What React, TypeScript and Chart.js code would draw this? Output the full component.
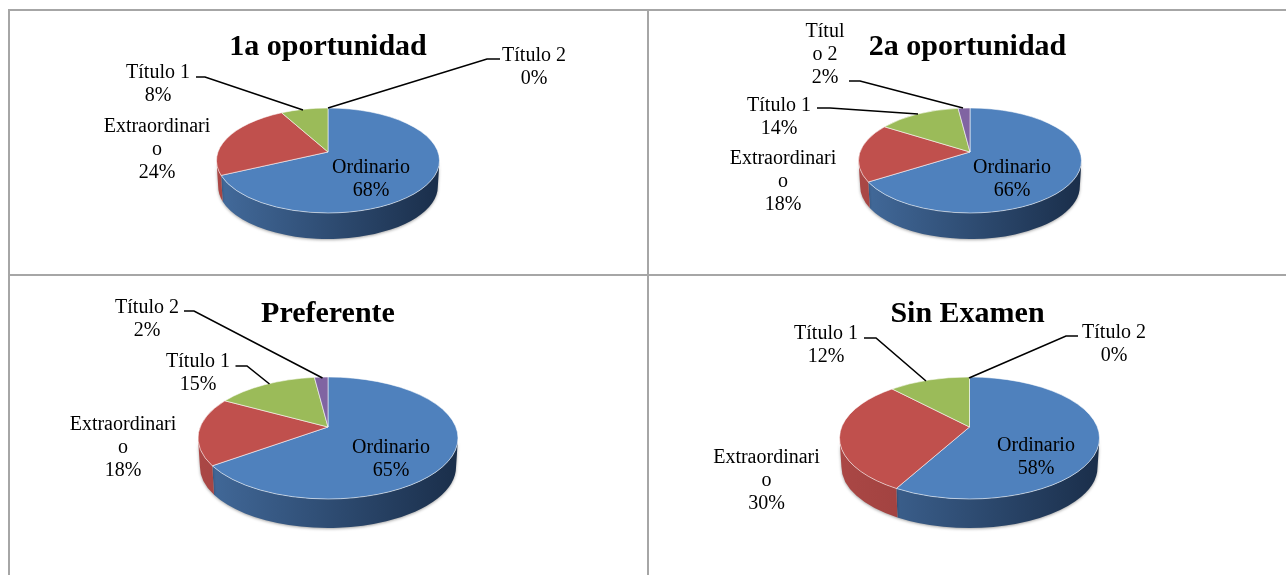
import React, { useEffect, useRef } from "react";
import { Chart, registerables } from "chart.js";

Chart.register(...registerables);

// ---------- data ----------
const categories = ["Ordinario", "Extraordinario", "Título 1", "Título 2"];
const titles = ["1a oportunidad", "2a oportunidad", "Preferente", "Sin Examen"];
const primeraValues = [68, 24, 8, 0];
const segundaValues = [66, 18, 14, 2];
const preferenteValues = [65, 18, 15, 2];
const sinExamenValues = [58, 30, 12, 0];
const panelValues = [primeraValues, segundaValues, preferenteValues, sinExamenValues];

// how each category name wraps in each panel
const wrappedNames = [
  [["Ordinario"], ["Extraordinari", "o"], ["Título 1"], ["Título 2"]],
  [["Ordinario"], ["Extraordinari", "o"], ["Título 1"], ["Títul", "o 2"]],
  [["Ordinario"], ["Extraordinari", "o"], ["Título 1"], ["Título 2"]],
  [["Ordinario"], ["Extraordinari", "o"], ["Título 1"], ["Título 2"]],
];

// ---------- styles ----------
const sliceColors = ["#4f81bd", "#c0504d", "#9bbb59", "#8064a2"];
const wallColors = [
  ["#436b9c", "#1a2e4a"],
  ["#aa4745", "#883432"],
  ["#7d9647", "#5f7236"],
  ["#664f82", "#4c3b61"],
];
const FONT = '"Liberation Serif", "Times New Roman", serif';
const LABEL_FONT = `20px ${FONT}`;
const LINE_H = 23;
const TEXT_NUDGE = 2;

// ---------- layout (page coordinates) ----------
const panels = [
  { x: 9, y: 10, w: 638, h: 264, cx: 328, titleCx: 328, cy: 160.5, a: 111.5, b: 52.5, depth: 26, lift: 8.5, titleY: 47 },
  { x: 649, y: 10, w: 637, h: 264, cx: 970, titleCx: 967.5, cy: 160.5, a: 111.5, b: 52.5, depth: 26, lift: 8.5, titleY: 47 },
  { x: 9, y: 276, w: 638, h: 299, cx: 328, titleCx: 328, cy: 438, a: 130, b: 61, depth: 29, lift: 11, titleY: 314.5 },
  { x: 649, y: 276, w: 637, h: 299, cx: 969.5, titleCx: 967.5, cy: 438, a: 130, b: 61, depth: 29, lift: 11, titleY: 314.5 },
];
const labelSpots = [
  [
    { x: 371, y: 166 },
    { x: 157, y: 125 },
    { x: 158, y: 71, leader: [[196, 77], [205, 77], [303, 110]] },
    { x: 534, y: 54, leader: [[500, 59], [487, 59], [328, 108]] },
  ],
  [
    { x: 1012, y: 166 },
    { x: 783, y: 157 },
    { x: 779, y: 104, leader: [[817, 108], [830, 108], [918, 114]] },
    { x: 825, y: 30, leader: [[849, 81], [860, 81], [963, 108]] },
  ],
  [
    { x: 391, y: 446 },
    { x: 123, y: 423 },
    { x: 198, y: 360, leader: [[235.5, 366], [247, 366], [269.5, 384]] },
    { x: 147, y: 306, leader: [[184, 311], [194, 311], [322.5, 378]] },
  ],
  [
    { x: 1036, y: 444 },
    { x: 766.5, y: 456 },
    { x: 826, y: 332, leader: [[864, 338], [876, 338], [926, 381]] },
    { x: 1114, y: 331, leader: [[1078, 336], [1066, 336], [969, 378]] },
  ],
];
const gridLines = [
  { left: 8, top: 9, width: 2, height: 566 },
  { left: 647, top: 9, width: 2, height: 566 },
  { left: 8, top: 9, width: 1278, height: 2 },
  { left: 8, top: 274, width: 1278, height: 2 },
];

// The picture is a perspective view: the circle's centre lands above the centre
// of the ellipse, so each slice angle is moved along the rim accordingly.
function rimAngle(phi: number, k: number) {
  const r = k / (1 + Math.sqrt(1 - k * k));
  const zx = Math.cos(phi);
  const zy = Math.sin(phi);
  const ang = Math.atan2(zy - r, zx) - Math.atan2(r * zx, 1 - r * zy);
  const diff = Math.atan2(Math.sin(ang - phi), Math.cos(ang - phi));
  return phi + diff;
}

const pie3dPlugin = {
  id: "pie3d",
  beforeDatasetDraw(chart: any, args: any) {
    const p = chart.options.plugins.pie3d;
    const ctx = chart.ctx;
    const arcs = chart.getDatasetMeta(args.index).data;
    const dx = p.cx - p.titleCx;
    const k = p.lift / p.b;
    arcs.forEach((arc: any, i: number) => {
      const { outerRadius: a, startAngle, endAngle } = arc;
      const x = arc.x + dx;
      const y = arc.y;
      const b = (a * p.b) / p.a;
      const s = Math.max(rimAngle(startAngle, k), 0);
      const e = Math.min(rimAngle(endAngle, k), Math.PI);
      if (e <= s) return;
      const g = ctx.createLinearGradient(x - a, 0, x + a, 0);
      g.addColorStop(0, wallColors[i][0]);
      g.addColorStop(1, wallColors[i][1]);
      ctx.save();
      ctx.shadowColor = "rgba(0,0,0,0.35)";
      ctx.shadowBlur = 3;
      ctx.shadowOffsetY = 1;
      ctx.fillStyle = g;
      ctx.beginPath();
      ctx.ellipse(x, y, a, b, 0, s, e);
      ctx.ellipse(x, y + p.depth, a * 0.985, b, 0, e, s, true);
      ctx.closePath();
      ctx.fill();
      ctx.restore();
    });
    arcs.forEach((arc: any, i: number) => {
      const { outerRadius: a, startAngle, endAngle } = arc;
      if (endAngle - startAngle <= 0) return;
      const x = arc.x + dx;
      const y = arc.y;
      const b = (a * p.b) / p.a;
      ctx.save();
      ctx.beginPath();
      ctx.moveTo(x, y - p.lift);
      ctx.ellipse(x, y, a, b, 0, rimAngle(startAngle, k), rimAngle(endAngle, k));
      ctx.closePath();
      ctx.fillStyle = sliceColors[i];
      ctx.fill();
      ctx.strokeStyle = "rgba(255,255,255,0.55)";
      ctx.lineWidth = 1;
      ctx.stroke();
      ctx.restore();
    });
    return false;
  },
  afterDatasetsDraw(chart: any) {
    const p = chart.options.plugins.pie3d;
    const ctx = chart.ctx;
    const values = chart.data.datasets[0].data;
    ctx.save();
    ctx.translate(-p.x, -p.y);
    p.spots.forEach((spot: any, i: number) => {
      if (spot.leader) {
        ctx.beginPath();
        spot.leader.forEach(([lx, ly]: number[], k: number) => (k ? ctx.lineTo(lx, ly) : ctx.moveTo(lx, ly)));
        ctx.strokeStyle = "#000";
        ctx.lineWidth = 1.6;
        ctx.stroke();
      }
      const lines = [...p.names[i], `${values[i]}%`];
      ctx.font = LABEL_FONT;
      ctx.fillStyle = "#000";
      ctx.textAlign = "center";
      ctx.textBaseline = "middle";
      lines.forEach((t: string, k: number) => ctx.fillText(t, spot.x, spot.y + TEXT_NUDGE + k * LINE_H));
    });
    ctx.restore();
  },
};

function PiePanel({ index }: { index: number }) {
  const ref = useRef<HTMLCanvasElement>(null);
  const p = panels[index];
  useEffect(() => {
    const relCy = p.cy - p.y;
    const relCx = p.titleCx - p.x;
    const titleLine = 36;
    const titleTop = p.titleY - p.y - titleLine / 2;
    const chart = new Chart(ref.current as HTMLCanvasElement, {
      type: "pie",
      data: {
        labels: categories,
        datasets: [{ data: panelValues[index], backgroundColor: sliceColors, borderWidth: 0 }],
      },
      plugins: [pie3dPlugin],
      options: {
        animation: false,
        responsive: false,
        layout: {
          padding: {
            left: relCx - p.a,
            right: p.w - relCx - p.a,
            top: 0,
            bottom: p.h - relCy - p.a,
          },
        },
        plugins: {
          legend: { display: false },
          tooltip: { enabled: false },
          title: {
            display: true,
            text: titles[index],
            color: "#000",
            font: { family: FONT, size: 30, weight: "bold", lineHeight: 1.2 },
            padding: { top: titleTop, bottom: relCy - p.a - titleTop - titleLine },
          },
          pie3d: { ...p, spots: labelSpots[index], names: wrappedNames[index] },
        },
      } as any,
    });
    return () => chart.destroy();
  }, []);
  return (
    <canvas
      ref={ref}
      width={p.w}
      height={p.h}
      style={{ position: "absolute", left: p.x, top: p.y, width: p.w, height: p.h }}
    />
  );
}

export default function App() {
  return (
    <div style={{ position: "fixed", left: 0, top: 0, width: 1286, height: 575, background: "#fff", overflow: "hidden" }}>
      {gridLines.map((l, i) => (
        <div key={i} style={{ position: "absolute", background: "#a6a6a6", ...l }} />
      ))}
      {panels.map((_, i) => (
        <PiePanel key={i} index={i} />
      ))}
    </div>
  );
}
